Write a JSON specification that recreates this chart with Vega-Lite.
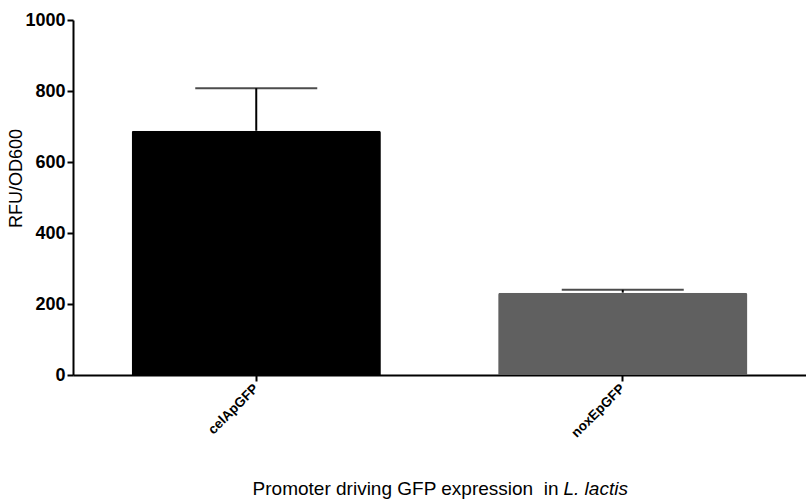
{
  "$schema": "https://vega.github.io/schema/vega-lite/v6.json",
  "width": 733,
  "height": 355,
  "autosize": {"type": "none"},
  "padding": {"left": 73, "top": 20, "right": 0, "bottom": 124},
  "background": "white",
  "config": {
    "view": {"stroke": null},
    "font": "Liberation Sans",
    "axis": {"grid": false, "domainColor": "black", "domainWidth": 2, "tickColor": "black", "tickWidth": 2, "tickSize": 6, "labelColor": "black", "titleColor": "black"}
  },
  "data": {
    "values": [
      {"promoter": "celApGFP", "mean": 688, "upper": 808},
      {"promoter": "noxEpGFP", "mean": 232, "upper": 240}
    ]
  },
  "resolve": {"axis": {"x": "independent"}},
  "layer": [
    {
      "mark": {"type": "bar", "cornerRadiusTopLeft": 2, "cornerRadiusTopRight": 2},
      "encoding": {
        "x": {
          "field": "promoter", "type": "nominal", "sort": null,
          "scale": {"paddingInner": 0.32, "paddingOuter": 0.16},
          "axis": {
            "orient": "bottom",
            "labelAngle": -45, "labelAlign": "right", "labelBaseline": "middle",
            "labelFont": "Liberation Sans", "labelFontWeight": "bold", "labelFontSize": 13.5, "labelPadding": 5,
            "title": "Promoter driving GFP expression\u00a0 in",
            "titleFont": "Liberation Sans", "titleFontWeight": "normal", "titleFontSize": 19,
            "titleAlign": "right", "titleAnchor": null, "titleX": 485, "titleY": 119, "titleBaseline": "alphabetic"
          }
        },
        "y": {
          "field": "mean", "type": "quantitative",
          "scale": {"domain": [0, 1000], "nice": false},
          "axis": {
            "values": [0, 200, 400, 600, 800, 1000], "format": "d",
            "labelFont": "Liberation Sans", "labelFontWeight": "bold", "labelFontSize": 18, "labelPadding": 2,
            "title": "RFU/OD600", "titleFont": "Liberation Sans", "titleFontWeight": "normal", "titleFontSize": 18,
            "titleAngle": -90, "titleAlign": "center", "titleBaseline": "middle", "titleAnchor": null,
            "titleX": -57, "titleY": 158
          }
        },
        "color": {
          "field": "promoter", "type": "nominal",
          "scale": {"domain": ["celApGFP", "noxEpGFP"], "range": ["#000000", "#606060"]},
          "legend": null
        }
      }
    },
    {
      "mark": {"type": "rule", "color": "black", "strokeWidth": 2},
      "encoding": {
        "x": {
          "field": "promoter", "type": "nominal", "sort": null,
          "axis": {
            "orient": "bottom", "labels": false, "ticks": false, "domain": false,
            "title": "L. lactis", "titleFont": "Liberation Sans", "titleFontWeight": "normal", "titleFontStyle": "italic", "titleFontSize": 19,
            "titleAlign": "left", "titleAnchor": null, "titleX": 490, "titleY": 119, "titleBaseline": "alphabetic"
          }
        },
        "y": {"field": "mean", "type": "quantitative"},
        "y2": {"field": "upper"}
      }
    },
    {
      "mark": {"type": "tick", "color": "black", "thickness": 2, "size": 122},
      "encoding": {
        "x": {"field": "promoter", "type": "nominal", "sort": null, "axis": null},
        "y": {"field": "upper", "type": "quantitative"}
      }
    }
  ]
}
